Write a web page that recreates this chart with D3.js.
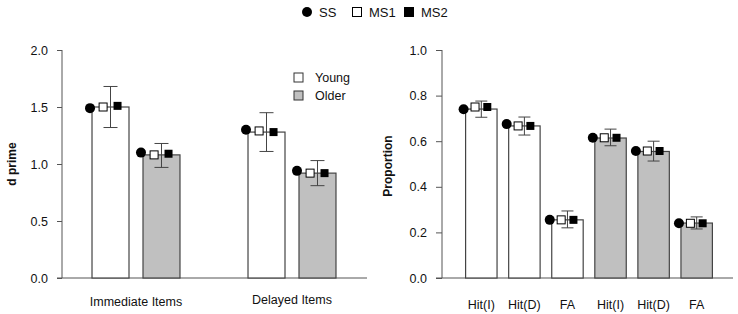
<!DOCTYPE html>
<html><head><meta charset="utf-8">
<script src="https://cdn.jsdelivr.net/npm/d3@7"></script>
<style>body{margin:0;background:#fff;} svg{display:block;font-family:"Liberation Sans",Arial,sans-serif;}</style>
</head><body>
<svg id="c" width="738" height="314"></svg>
<script>
// ---- Left panel data (d prime) ----
const leftCategories = ["Immediate Items", "Delayed Items"];
const groups = ["Young", "Older"];
const leftBars = [[1.50, 1.08], [1.28, 0.92]];           // [category][group]
const leftErrHigh = [[1.68, 1.18], [1.45, 1.03]];
const leftErrLow = [[1.32, 0.97], [1.11, 0.81]];
const leftSS  = [[1.49, 1.10], [1.30, 0.94]];
const leftMS1 = [[1.50, 1.08], [1.29, 0.92]];
const leftMS2 = [[1.51, 1.09], [1.28, 0.92]];
const leftTicks = [0, 0.5, 1.0, 1.5, 2.0];

// ---- Right panel data (Proportion) ----
const rightCategories = ["Hit(I)", "Hit(D)", "FA", "Hit(I)", "Hit(D)", "FA"];
const rightGroup = ["Young", "Young", "Young", "Older", "Older", "Older"];
const rightBars = [0.741, 0.667, 0.255, 0.614, 0.555, 0.241];
const rightErrHigh = [0.776, 0.706, 0.294, 0.653, 0.600, 0.268];
const rightErrLow = [0.705, 0.627, 0.220, 0.580, 0.513, 0.215];
const rightSS  = [0.740, 0.675, 0.255, 0.615, 0.557, 0.240];
const rightMS1 = [0.750, 0.667, 0.255, 0.615, 0.557, 0.240];
const rightMS2 = [0.750, 0.667, 0.255, 0.615, 0.557, 0.240];
const rightTicks = [0, 0.2, 0.4, 0.6, 0.8, 1.0];

const seriesNames = ["SS", "MS1", "MS2"];

const svg = d3.select("#c");
const axisColor = "#555";
const barStroke = "#444";
const fills = {Young: "#ffffff", Older: "#c0c0c0"};
const fmt = d3.format(".1f");

function drawMarkers(g, cx, bw, ss, ms1, ms2, y, r, s) {
  g.append("circle").attr("cx", cx - bw / 2 - 2).attr("cy", y(ss)).attr("r", r)
    .attr("fill", "#000");
  g.append("rect").attr("x", cx - bw * 0.2 - s / 2).attr("y", y(ms1) - s / 2)
    .attr("width", s).attr("height", s).attr("fill", "#fff").attr("stroke", "#000").attr("stroke-width", 1);
  g.append("rect").attr("x", cx + bw * 0.19 - s / 2).attr("y", y(ms2) - s / 2)
    .attr("width", s).attr("height", s).attr("fill", "#000");
}

// ================= LEFT PANEL =================
const yL = d3.scaleLinear().domain([0, 2]).range([278, 50]);
const xL = d3.scaleBand().domain(leftCategories).range([58, 370]).padding(0);
const xLi = d3.scaleBand().domain(groups).range([0, xL.bandwidth()]).paddingInner(14 / 51).paddingOuter(0.667);

const gL = svg.append("g");
const yAxisL = d3.axisLeft(yL).tickValues(leftTicks).tickFormat(fmt).tickSize(5).tickSizeOuter(0);
const ayL = gL.append("g").attr("transform", "translate(62,0)").call(yAxisL);
ayL.select(".domain").attr("stroke", axisColor).attr("d", `M0,${yL(0)}V${yL(2)}`);
ayL.selectAll(".tick line").attr("stroke", axisColor);
ayL.selectAll(".tick text").attr("font-size", 12.5).attr("fill", "#111").attr("x", -14);
gL.append("line").attr("x1", 57).attr("x2", 367).attr("y1", yL(0)).attr("y2", yL(0)).attr("stroke", axisColor);

leftCategories.forEach((cat, ci) => {
  groups.forEach((grp, gi) => {
    const x0 = xL(cat) + xLi(grp);
    const bw = xLi.bandwidth();
    const cx = x0 + bw / 2;
    gL.append("rect").attr("x", x0).attr("y", yL(leftBars[ci][gi])).attr("width", bw)
      .attr("height", yL(0) - yL(leftBars[ci][gi])).attr("fill", fills[grp]).attr("stroke", barStroke).attr("stroke-width", 1.2);
    gL.append("line").attr("x1", cx).attr("x2", cx).attr("y1", yL(leftErrHigh[ci][gi])).attr("y2", yL(leftErrLow[ci][gi])).attr("stroke", barStroke);
    [leftErrHigh[ci][gi], leftErrLow[ci][gi]].forEach(v => {
      gL.append("line").attr("x1", cx - 7).attr("x2", cx + 7).attr("y1", yL(v)).attr("y2", yL(v)).attr("stroke", barStroke);
    });
    drawMarkers(gL, cx, bw, leftSS[ci][gi], leftMS1[ci][gi], leftMS2[ci][gi], yL, 5, 8);
  });
  gL.append("text").attr("x", xL(cat) + xL.bandwidth() / 2).attr("y", ci === 0 ? 306 : 304)
    .attr("text-anchor", "middle").attr("font-size", 12.5).attr("fill", "#111").text(cat);
});
gL.append("text").attr("transform", "translate(16,164) rotate(-90)").attr("text-anchor", "middle")
  .attr("font-size", 12).attr("font-weight", "bold").attr("fill", "#111").text("d prime");

groups.forEach((grp, i) => {
  const ly = 77 + i * 18;
  gL.append("rect").attr("x", 294).attr("y", ly - 4).attr("width", 9).attr("height", 9)
    .attr("fill", fills[grp]).attr("stroke", "#333");
  gL.append("text").attr("x", 315).attr("y", ly + 5).attr("font-size", 12.5).attr("fill", "#111").text(grp);
});

// ================= RIGHT PANEL =================
const yR = d3.scaleLinear().domain([0, 1]).range([278, 50]);
const xR = d3.scaleBand().domain(d3.range(rightCategories.length)).range([460, 718]).paddingInner(0.27).paddingOuter(0.13);

const gR = svg.append("g");
const yAxisR = d3.axisLeft(yR).tickValues(rightTicks).tickFormat(fmt).tickSize(6).tickSizeOuter(0);
const ayR = gR.append("g").attr("transform", "translate(442,0)").call(yAxisR);
ayR.select(".domain").attr("stroke", axisColor).attr("d", `M0,${yR(0)}V${yR(1)}`);
ayR.selectAll(".tick line").attr("stroke", axisColor);
ayR.selectAll(".tick text").attr("font-size", 12.5).attr("fill", "#111").attr("x", -15);
gR.append("line").attr("x1", 436).attr("x2", 733).attr("y1", yR(0)).attr("y2", yR(0)).attr("stroke", axisColor);

rightCategories.forEach((cat, i) => {
  const x0 = xR(i);
  const bw = xR.bandwidth();
  const cx = x0 + bw / 2;
  gR.append("rect").attr("x", x0).attr("y", yR(rightBars[i])).attr("width", bw)
    .attr("height", yR(0) - yR(rightBars[i])).attr("fill", fills[rightGroup[i]]).attr("stroke", barStroke).attr("stroke-width", 1.2);
  gR.append("line").attr("x1", cx).attr("x2", cx).attr("y1", yR(rightErrHigh[i])).attr("y2", yR(rightErrLow[i])).attr("stroke", barStroke);
  [rightErrHigh[i], rightErrLow[i]].forEach(v => {
    gR.append("line").attr("x1", cx - 6).attr("x2", cx + 6).attr("y1", yR(v)).attr("y2", yR(v)).attr("stroke", barStroke);
  });
  drawMarkers(gR, cx, bw, rightSS[i], rightMS1[i], rightMS2[i], yR, 5, 8);
  gR.append("text").attr("x", cx).attr("y", 309).attr("text-anchor", "middle")
    .attr("font-size", 12.5).attr("fill", "#111").text(cat);
});
gR.append("text").attr("transform", "translate(392,166) rotate(-90)").attr("text-anchor", "middle")
  .attr("font-size", 12).attr("font-weight", "bold").attr("fill", "#111").text("Proportion");

// ================= TOP LEGEND =================
const lg = svg.append("g");
const legX = [307, 357, 409];
seriesNames.forEach((name, i) => {
  const x = legX[i];
  if (i === 0) lg.append("circle").attr("cx", x).attr("cy", 12).attr("r", 5).attr("fill", "#000");
  else lg.append("rect").attr("x", x - 4.5).attr("y", 7.5).attr("width", 9).attr("height", 9)
    .attr("fill", i === 1 ? "#fff" : "#000").attr("stroke", "#000");
  lg.append("text").attr("x", x + 12).attr("y", 17).attr("font-size", 13).attr("fill", "#111").text(name);
});
</script>
</body></html>
